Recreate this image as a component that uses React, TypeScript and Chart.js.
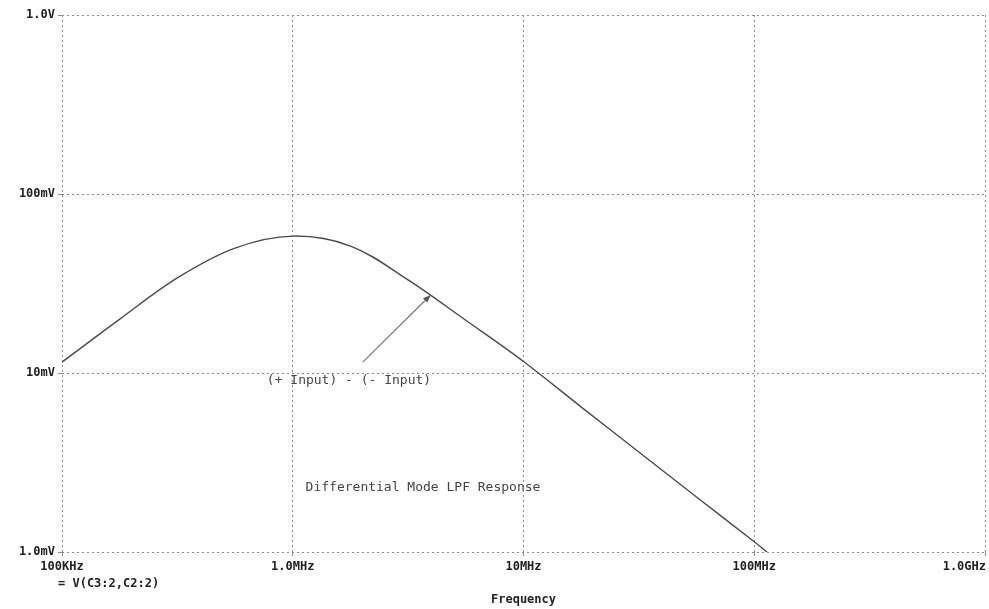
import React, { useEffect, useRef } from "react";
import { Chart, registerables } from "chart.js";

Chart.register(...registerables);

const frequencies = [1e5, 1.78e5, 3.16e5, 5.62e5, 1e6, 1.78e6, 3.16e6, 5.62e6, 1e7, 1.78e7, 3.16e7, 5.62e7, 1e8, 1.135e8];
const voltages = [0.0115, 0.02, 0.034, 0.0499, 0.0582, 0.0512, 0.0331, 0.0197, 0.0116, 0.00645, 0.00362, 0.00203, 0.00114, 0.001];

const xTickValues = [1e5, 1e6, 1e7, 1e8, 1e9];
const xTickLabels = ["100KHz", "1.0MHz", "10MHz", "100MHz", "1.0GHz"];
const yTickValues = [1e-3, 1e-2, 1e-1, 1];
const yTickLabels = ["1.0mV", "10mV", "100mV", "1.0V"];

const seriesName = "V(C3:2,C2:2)";
const xTitle = "Frequency";
const traceLabel = "(+ Input) - (- Input)";
const plotNote = "Differential Mode LPF Response";

const MONO = '"DejaVu Sans Mono", "Liberation Mono", monospace';
const TICK_FONT = `bold 12px ${MONO}`;

export default function App() {
  const ref = useRef<HTMLCanvasElement | null>(null);

  useEffect(() => {
    document.body.style.margin = "0";
    const canvas = ref.current;
    if (!canvas) return;

    const annotations = {
      id: "annotations",
      afterDraw(chart: any) {
        const { ctx } = chart;
        const xs = chart.scales.x;
        const ys = chart.scales.y;
        ctx.save();
        const hx = xs.getPixelForValue(3.95e6);
        const hy = ys.getPixelForValue(0.0272);
        const tx = xs.getPixelForValue(2.01e6);
        const ty = ys.getPixelForValue(0.0115);
        ctx.strokeStyle = "#777";
        ctx.fillStyle = "#555";
        ctx.lineWidth = 1.2;
        ctx.beginPath();
        ctx.moveTo(tx, ty);
        ctx.lineTo(hx, hy);
        ctx.stroke();
        const ang = Math.atan2(hy - ty, hx - tx);
        const L = 8;
        ctx.beginPath();
        ctx.moveTo(hx, hy);
        ctx.lineTo(hx - L * Math.cos(ang - 0.4), hy - L * Math.sin(ang - 0.4));
        ctx.lineTo(hx - L * Math.cos(ang + 0.4), hy - L * Math.sin(ang + 0.4));
        ctx.closePath();
        ctx.fill();

        ctx.fillStyle = "#444";
        ctx.font = `13px ${MONO}`;
        ctx.textAlign = "center";
        ctx.textBaseline = "middle";
        ctx.fillText(traceLabel, 349, 381);
        ctx.fillText(plotNote, 423, 488);

        // last x tick label, kept inside the canvas (right-aligned to the axis end)
        ctx.fillStyle = "#222";
        ctx.font = TICK_FONT;
        ctx.textAlign = "right";
        const lastIdx = xTickValues.length - 1;
        ctx.fillText(xTickLabels[lastIdx], xs.getPixelForValue(xTickValues[lastIdx]) + 1, 567);

        ctx.textAlign = "left";
        ctx.fillText("= " + seriesName, 58, 584);
        ctx.restore();
      },
    };

    const chart = new Chart(canvas, {
      type: "line",
      data: {
        datasets: [
          {
            label: seriesName,
            data: frequencies.map((f, i) => ({ x: f, y: voltages[i] })),
            borderColor: "#4a4a4a",
            borderWidth: 1.4,
            pointRadius: 0,
            fill: false,
            tension: 0.35,
          },
        ],
      },
      options: {
        animation: false,
        responsive: false,
        maintainAspectRatio: false,
        layout: { padding: { top: 15, right: 4, left: 0, bottom: 0 } },
        plugins: {
          legend: { display: false },
          tooltip: { enabled: false },
        },
        scales: {
          x: {
            type: "logarithmic",
            min: 1e5,
            max: 1e9,
            afterBuildTicks: (s: any) => {
              s.ticks = xTickValues.map((v) => ({ value: v }));
            },
            afterFit: (s: any) => {
              s.height = 57;
              s.paddingLeft = 0;
              s.paddingRight = 0;
            },
            ticks: {
              autoSkip: false,
              maxRotation: 0,
              padding: 4,
              color: "#222",
              font: { family: MONO, size: 12, weight: "bold" },
              callback: (v: any) => {
                const i = xTickValues.indexOf(Number(v));
                if (i === xTickValues.length - 1) return "";
                return i >= 0 ? xTickLabels[i] : "";
              },
            },
            grid: { color: "#8a8a8a", lineWidth: 1, tickLength: 4 },
            border: { display: false, dash: [2, 3] },
            title: {
              display: true,
              text: xTitle,
              color: "#222",
              font: { family: MONO, size: 12, weight: "bold" },
              padding: { top: 0, bottom: 2 },
            },
          },
          y: {
            type: "logarithmic",
            min: 1e-3,
            max: 1,
            afterBuildTicks: (s: any) => {
              s.ticks = yTickValues.map((v) => ({ value: v }));
            },
            afterFit: (s: any) => {
              s.width = 62;
              s.paddingTop = 0;
              s.paddingBottom = 0;
            },
            ticks: {
              autoSkip: false,
              padding: 3,
              color: "#222",
              font: { family: MONO, size: 12, weight: "bold" },
              callback: (v: any) => {
                const i = yTickValues.findIndex((t) => Math.abs(t - Number(v)) / t < 1e-6);
                return i >= 0 ? yTickLabels[i] : "";
              },
            },
            grid: { color: "#8a8a8a", lineWidth: 1, tickLength: 4 },
            border: { display: false, dash: [2, 3] },
          },
        },
      },
      plugins: [annotations],
    } as any);

    return () => chart.destroy();
  }, []);

  return (
    <div style={{ width: 989, height: 609, background: "#fff" }}>
      <canvas ref={ref} width={989} height={609} style={{ display: "block" }} />
    </div>
  );
}
